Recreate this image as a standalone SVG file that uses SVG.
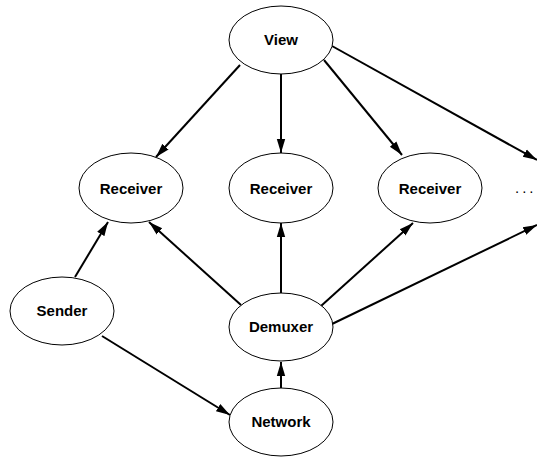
<svg xmlns="http://www.w3.org/2000/svg" width="537" height="457" viewBox="0 0 537 457">
<style>
.n ellipse{fill:#fff;stroke:#000;stroke-width:1}
.n text{font-family:"Liberation Sans",Arial,sans-serif;font-weight:bold;font-size:15px;text-anchor:middle;fill:#000}
.e line{stroke:#000;stroke-width:2;marker-end:url(#ah)}
</style>
<defs>
<marker id="ah" markerUnits="userSpaceOnUse" markerWidth="14" markerHeight="10" viewBox="0 0 14 10" refX="14" refY="5" orient="auto">
<path d="M0,0.8 L14,5 L0,9.2 Z" fill="#000"/>
</marker>
</defs>
<g id="edges" class="e">
<line x1="240" y1="65" x2="156" y2="157"/>
<line x1="281" y1="73" x2="281" y2="153"/>
<line x1="324" y1="60" x2="402" y2="155"/>
<line x1="332" y1="46" x2="537" y2="160"/>
<line x1="75" y1="277" x2="108" y2="222"/>
<line x1="241" y1="305" x2="149" y2="222"/>
<line x1="281" y1="293" x2="281" y2="223"/>
<line x1="321" y1="306" x2="413" y2="223"/>
<line x1="332" y1="324" x2="537" y2="225"/>
<line x1="102" y1="336" x2="230" y2="415"/>
<line x1="281" y1="388" x2="281" y2="362"/>
</g>
<g id="view" class="n"><ellipse cx="281" cy="40" rx="52" ry="34"/><text x="281" y="45">View</text></g>
<g id="receiver1" class="n"><ellipse cx="131" cy="188" rx="52" ry="35"/><text x="131" y="194">Receiver</text></g>
<g id="receiver2" class="n"><ellipse cx="281" cy="188" rx="52" ry="35"/><text x="281" y="194">Receiver</text></g>
<g id="receiver3" class="n"><ellipse cx="430" cy="188" rx="52" ry="35"/><text x="430" y="194">Receiver</text></g>
<g id="more" class="n"><text x="515" y="193" style="text-anchor:start;font-weight:normal;letter-spacing:3px">...</text></g>
<g id="sender" class="n"><ellipse cx="62" cy="311" rx="52" ry="34"/><text x="62" y="316">Sender</text></g>
<g id="demuxer" class="n"><ellipse cx="281" cy="327" rx="52" ry="34"/><text x="281" y="332">Demuxer</text></g>
<g id="network" class="n"><ellipse cx="281" cy="422" rx="52" ry="34"/><text x="281" y="427">Network</text></g>
</svg>
